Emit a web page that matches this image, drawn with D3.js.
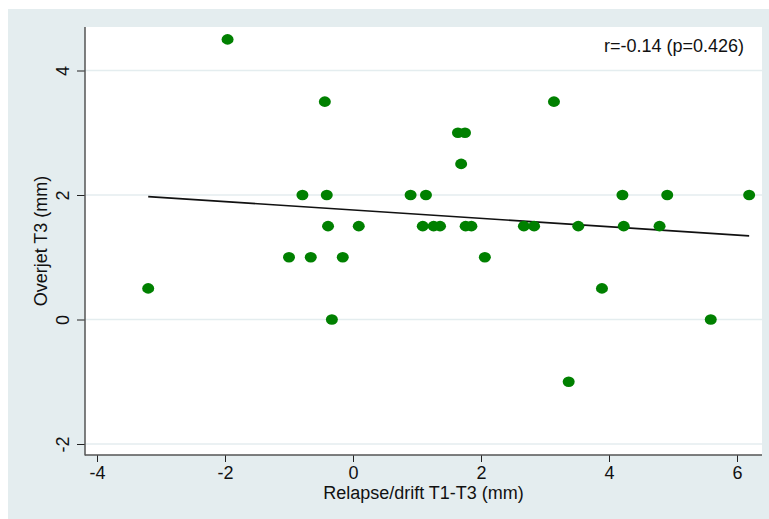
<!DOCTYPE html>
<html>
<head>
<meta charset="utf-8">
<script src="https://cdnjs.cloudflare.com/ajax/libs/d3/7.8.5/d3.min.js"></script>
<style>
body { margin:0; background:#fff; }
text { font-family: "Liberation Sans", Arial, sans-serif; fill:#111; }
</style>
</head>
<body>
<svg id="chart" width="769" height="519"></svg>
<script>
// relapse/drift T1-T3 (mm) vs overjet T3 (mm)
var relapse = [-1.96, -0.44, -3.2, -0.79, -0.41, -1.0, -0.66, -0.39, -0.16, -0.33,
	0.09, 0.90, 1.14, 1.09, 1.26, 1.36, 1.64, 1.75, 1.69, 1.76, 1.85,
	2.06, 2.67, 2.83, 3.14, 3.37, 3.52, 3.89, 4.21, 4.23, 4.79, 4.91, 5.59, 6.19];
var overjet = [4.5, 3.5, 0.5, 2, 2, 1, 1, 1.5, 1, 0,
	1.5, 2, 2, 1.5, 1.5, 1.5, 3, 3, 2.5, 1.5, 1.5,
	1, 1.5, 1.5, 3.5, -1, 1.5, 0.5, 2, 1.5, 1.5, 2, 0, 2];
var xTicks = [-4, -2, 0, 2, 4, 6];
var yTicks = [-2, 0, 2, 4];
var statText = "r=-0.14 (p=0.426)";

var bg = "#e4edef";
var svg = d3.select("#chart");
var fsize = "18px";

// outer region
svg.append("rect").attr("x",8).attr("y",9).attr("width",761).attr("height",510).attr("fill",bg);
// plot region
var pLeft = 85, pRight = 762, pTop = 27, pBottom = 455;
svg.append("rect").attr("x",pLeft).attr("y",pTop).attr("width",pRight-pLeft).attr("height",pBottom-pTop).attr("fill","#fff");

var x = d3.scaleLinear().domain([-4,6]).range([97,737]);
var y = d3.scaleLinear().domain([-2,4]).range([444,70.5]);
var fmt = function(d){ return String(d); };

// grid
svg.selectAll(".grid").data(yTicks).enter().append("line")
	.attr("x1",pLeft).attr("x2",pRight)
	.attr("y1",function(d){return y(d);}).attr("y2",function(d){return y(d);})
	.attr("stroke",bg).attr("stroke-width",1.5);

// axes
var xAxis = svg.append("g").attr("transform","translate(0,"+pBottom+")")
	.call(d3.axisBottom(x).tickValues(xTicks).tickFormat(fmt).tickSize(7).tickSizeOuter(0).tickPadding(4));
var yAxis = svg.append("g").attr("transform","translate("+pLeft+",0)")
	.call(d3.axisLeft(y).tickValues(yTicks).tickFormat(fmt).tickSize(8).tickSizeOuter(0));
xAxis.select(".domain").remove();
yAxis.select(".domain").remove();
xAxis.selectAll(".tick line").attr("stroke","#222");
yAxis.selectAll(".tick line").attr("stroke","#222");
xAxis.selectAll("text").style("font-size",fsize).attr("fill","#111");
yAxis.selectAll("text").style("font-size",fsize).attr("fill","#111")
	.attr("x",0).attr("dy",0)
	.attr("text-anchor","middle")
	.attr("transform","translate(-16,0) rotate(-90)");

svg.append("line").attr("x1",pLeft).attr("x2",pLeft).attr("y1",pTop).attr("y2",pBottom+0.5)
	.attr("stroke","#555").attr("stroke-width",1.5);
svg.append("line").attr("x1",pLeft).attr("x2",pRight).attr("y1",pBottom).attr("y2",pBottom)
	.attr("stroke","#555").attr("stroke-width",1.5);

// fitted line (least squares)
var mx = d3.mean(relapse), my = d3.mean(overjet);
var sxy = d3.sum(relapse, function(d,i){return (d-mx)*(overjet[i]-my);});
var sxx = d3.sum(relapse, function(d){return (d-mx)*(d-mx);});
var slope = sxy/sxx, icpt = my - slope*mx;
var xr = d3.extent(relapse);
svg.append("line")
	.attr("x1",x(xr[0])).attr("y1",y(icpt+slope*xr[0]))
	.attr("x2",x(xr[1])).attr("y2",y(icpt+slope*xr[1]))
	.attr("stroke","#111").attr("stroke-width",1.6);

// points
svg.selectAll(".pt").data(relapse).enter().append("ellipse")
	.attr("cx",function(d){return x(d);})
	.attr("cy",function(d,i){return y(overjet[i]);})
	.attr("rx",6).attr("ry",5.3)
	.attr("fill","#008000");

// labels
svg.append("text").attr("x",744).attr("y",52).attr("text-anchor","end")
	.style("font-size",fsize).text(statText);
svg.append("text").attr("x",423.5).attr("y",499).attr("text-anchor","middle")
	.style("font-size",fsize).text("Relapse/drift T1-T3 (mm)");
svg.append("text").attr("transform","translate(47,241) rotate(-90)").attr("text-anchor","middle")
	.style("font-size",fsize).text("Overjet T3 (mm)");
</script>
</body>
</html>
